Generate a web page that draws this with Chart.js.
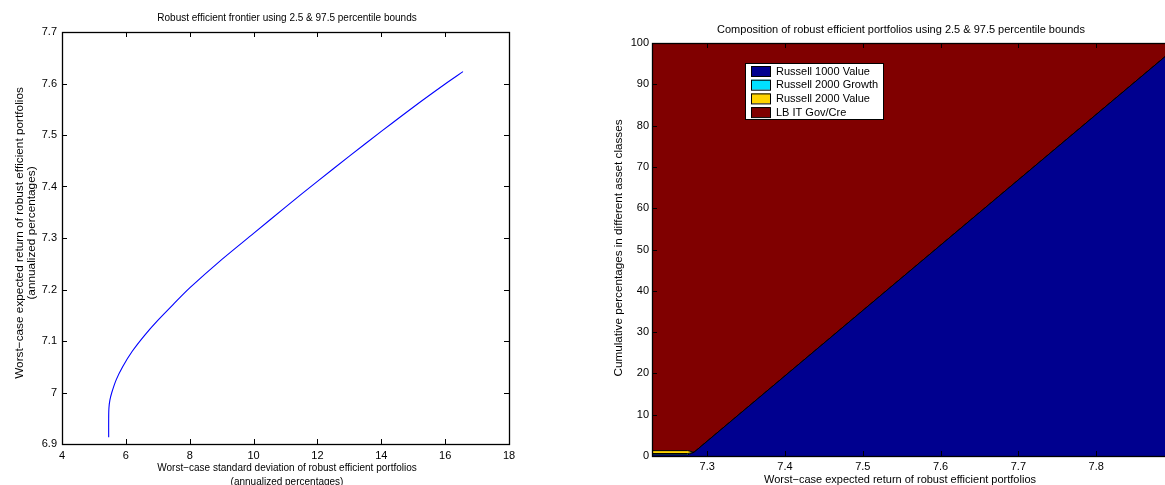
<!DOCTYPE html>
<html lang="en">
<head>
<meta charset="UTF-8" />
<title>Robust efficient frontier and composition</title>
<script src="https://cdn.jsdelivr.net/npm/chart.js"></script>
<style>
  * { margin: 0; padding: 0; box-sizing: border-box; }
  body {
    width: 1165px;
    height: 485px;
    overflow: hidden;
    background: #fff;
    position: relative;
  }
  #frontier { position: absolute; left: 0; top: 0; }
  #composition { position: absolute; left: 610px; top: 0; }
</style>
</head>
<body>
<canvas id="frontier" width="610" height="485"></canvas>
<canvas id="composition" width="600" height="485"></canvas>

<script>
  // left panel: robust efficient frontier
  const frontierSd = [5.462, 5.462, 5.47, 5.5, 5.56, 5.7, 5.9, 6.2, 6.6, 7.0, 7.5, 8.0, 9.0, 10.0, 11.0, 12.0, 13.0, 14.0, 15.0, 16.0, 16.56];
  const frontierRet = [6.913, 6.95, 6.97, 6.985, 7.0, 7.025, 7.05, 7.08, 7.112, 7.14, 7.172, 7.203, 7.258, 7.309, 7.36, 7.41, 7.459, 7.507, 7.554, 7.599, 7.623];
  const frontierXTicks = [4, 6, 8, 10, 12, 14, 16, 18];
  const frontierYTicks = [6.9, 7.0, 7.1, 7.2, 7.3, 7.4, 7.5, 7.6, 7.7];

  // right panel: composition (cumulative percentages)
  const compRet = [7.229, 7.275, 7.283, 7.895];
  const russell1000Value = [0.3, 0.3, 0.9, 97.7];
  const russell2000Growth = [0.3, 0.3, 0, 0];
  const russell2000Value = [0.7, 0.7, 0, 0];
  const lbGovCre = [98.7, 98.7, 99.1, 2.3];
  const compXTicks = [7.3, 7.4, 7.5, 7.6, 7.7, 7.8];
  const compYTicks = [0, 10, 20, 30, 40, 50, 60, 70, 80, 90, 100];

  const FONT = "'Liberation Sans', Arial, Helvetica, sans-serif";
  const TICK_LEN = 5;

  // matlab-like box with inward ticks on all four sides
  const matlabBox = {
    id: 'matlabBox',
    afterDatasetsDraw(chart) {
      const { ctx, chartArea: a, scales: { x, y } } = chart;
      ctx.save();
      ctx.strokeStyle = '#000';
      ctx.lineWidth = 1;
      ctx.beginPath();
      x.ticks.forEach(t => {
        const px = Math.round(x.getPixelForValue(t.value)) + 0.5;
        ctx.moveTo(px, a.bottom); ctx.lineTo(px, a.bottom - TICK_LEN);
        ctx.moveTo(px, a.top); ctx.lineTo(px, a.top + TICK_LEN);
      });
      y.ticks.forEach(t => {
        const py = Math.round(y.getPixelForValue(t.value)) + 0.5;
        ctx.moveTo(a.left, py); ctx.lineTo(a.left + TICK_LEN, py);
        ctx.moveTo(a.right, py); ctx.lineTo(a.right - TICK_LEN, py);
      });
      ctx.stroke();
      ctx.lineWidth = 1.3;
      ctx.strokeRect(Math.round(a.left) + 0.5, Math.round(a.top) + 0.5,
                     Math.round(a.width), Math.round(a.height));
      ctx.restore();
    }
  };

  // titles and axis labels at fixed spots
  const captions = {
    id: 'captions',
    afterDraw(chart, args, o) {
      const ctx = chart.ctx;
      ctx.save();
      ctx.fillStyle = '#000';
      ctx.textAlign = 'center';
      ctx.textBaseline = 'middle';
      ctx.font = o.titleSize + 'px ' + FONT;
      ctx.fillText(o.title, o.titleX, o.titleY);
      ctx.font = o.xLabelSize + 'px ' + FONT;
      o.xLabel.forEach((s, i) => ctx.fillText(s, o.xLabelX, o.xLabelY + i * 14));
      ctx.font = o.yLabelSize + 'px ' + FONT;
      ctx.translate(o.yLabelX, o.yLabelY);
      ctx.rotate(-Math.PI / 2);
      o.yLabel.forEach((s, i) => ctx.fillText(s, 0, i * 12));
      ctx.restore();
    }
  };

  // legend box drawn inside the plot, like matlab
  const boxLegend = {
    id: 'boxLegend',
    afterDraw(chart, args, o) {
      const ctx = chart.ctx;
      ctx.save();
      ctx.fillStyle = '#fff';
      ctx.fillRect(o.x, o.y, o.w, o.h);
      ctx.strokeStyle = '#000';
      ctx.lineWidth = 1;
      ctx.strokeRect(o.x + 0.5, o.y + 0.5, o.w, o.h);
      ctx.font = '11px ' + FONT;
      ctx.textBaseline = 'middle';
      chart.data.datasets.forEach((ds, i) => {
        const cy = o.y + 8 + i * 13.7;
        ctx.fillStyle = ds.backgroundColor;
        ctx.fillRect(o.x + 6, cy - 5, 19, 10);
        ctx.strokeRect(o.x + 6.5, cy - 4.5, 19, 10);
        ctx.fillStyle = '#000';
        ctx.fillText(ds.label, o.x + 31, cy + 0.5);
      });
      ctx.restore();
    }
  };

  const tickFont = { family: FONT, size: 11 };
  const fixTicks = list => scale => { scale.ticks = list.map(v => ({ value: v })); };
  const noGrid = { display: false, drawTicks: false };

  new Chart(document.getElementById('frontier'), {
    type: 'scatter',
    data: {
      datasets: [{
        label: 'Robust efficient frontier',
        data: frontierSd.map((v, i) => ({ x: v, y: frontierRet[i] })),
        showLine: true,
        borderColor: '#0000ff',
        borderWidth: 1.1,
        pointRadius: 0,
        tension: 0.3
      }]
    },
    options: {
      responsive: false,
      animation: false,
      events: [],
      layout: { padding: { top: 32, right: 101, left: 0, bottom: 0 } },
      plugins: {
        legend: { display: false },
        tooltip: { enabled: false },
        captions: {
          title: 'Robust efficient frontier using 2.5 & 97.5 percentile bounds',
          titleSize: 10, titleX: 287, titleY: 18,
          xLabelSize: 10, yLabelSize: 11.8,
          xLabel: ['Worst\u2212case standard deviation of robust efficient portfolios', '(annualized percentages)'],
          xLabelX: 287, xLabelY: 468,
          yLabel: ['Worst\u2212case expected return of robust efficient portfolios', '(annualized percentages)'],
          yLabelX: 20, yLabelY: 233
        }
      },
      scales: {
        x: {
          type: 'linear', min: 4, max: 18,
          grid: noGrid, border: { display: false },
          afterBuildTicks: fixTicks(frontierXTicks),
          afterFit: s => { s.height = 41; },
          ticks: { font: tickFont, color: '#000', padding: 5, maxRotation: 0,
                   callback: v => String(v) }
        },
        y: {
          type: 'linear', min: 6.9, max: 7.7,
          grid: noGrid, border: { display: false },
          afterBuildTicks: fixTicks(frontierYTicks),
          afterFit: s => { s.width = 62; },
          ticks: { font: tickFont, color: '#000', padding: 5,
                   callback: v => (Math.abs(v - 7) < 1e-9 ? '7' : v.toFixed(1)) }
        }
      }
    },
    plugins: [matlabBox, captions]
  });

  const areaSet = (label, values, color, fill) => ({
    label,
    data: compRet.map((x, i) => ({ x, y: values[i] })),
    backgroundColor: color,
    borderColor: '#000',
    borderWidth: 1,
    pointRadius: 0,
    tension: 0,
    fill
  });

  new Chart(document.getElementById('composition'), {
    type: 'line',
    data: {
      datasets: [
        areaSet('Russell 1000 Value', russell1000Value, '#00008f', 'origin'),
        areaSet('Russell 2000 Growth', russell2000Growth, '#00e0ff', '-1'),
        areaSet('Russell 2000 Value', russell2000Value, '#ffd400', '-1'),
        areaSet('LB IT Gov/Cre', lbGovCre, '#800000', '-1')
      ]
    },
    options: {
      responsive: false,
      animation: false,
      events: [],
      layout: { padding: { top: 43, right: 20.5, left: 0, bottom: 0 } },
      plugins: {
        legend: { display: false },
        tooltip: { enabled: false },
        filler: { propagate: false },
        captions: {
          title: 'Composition of robust efficient portfolios using 2.5 & 97.5 percentile bounds',
          titleSize: 11, titleX: 291, titleY: 30,
          xLabelSize: 11, yLabelSize: 11.7,
          xLabel: ['Worst\u2212case expected return of robust efficient portfolios'],
          xLabelX: 290, xLabelY: 480,
          yLabel: ['Cumulative percentages in different asset classes'],
          yLabelX: 9, yLabelY: 248
        },
        boxLegend: { x: 135, y: 63, w: 138, h: 56 }
      },
      scales: {
        x: {
          type: 'linear', min: 7.229, max: 7.92,
          grid: noGrid, border: { display: false },
          afterBuildTicks: fixTicks(compXTicks),
          afterFit: s => { s.height = 29; },
          ticks: { font: tickFont, color: '#000', padding: 4, maxRotation: 0,
                   callback: v => v.toFixed(1) }
        },
        y: {
          type: 'linear', min: 0, max: 100, stacked: true,
          grid: noGrid, border: { display: false },
          afterBuildTicks: fixTicks(compYTicks),
          afterFit: s => { s.width = 42; },
          ticks: { font: tickFont, color: '#000', padding: 3,
                   callback: v => String(v) }
        }
      }
    },
    plugins: [matlabBox, captions, boxLegend]
  });
</script>
</body>
</html>
